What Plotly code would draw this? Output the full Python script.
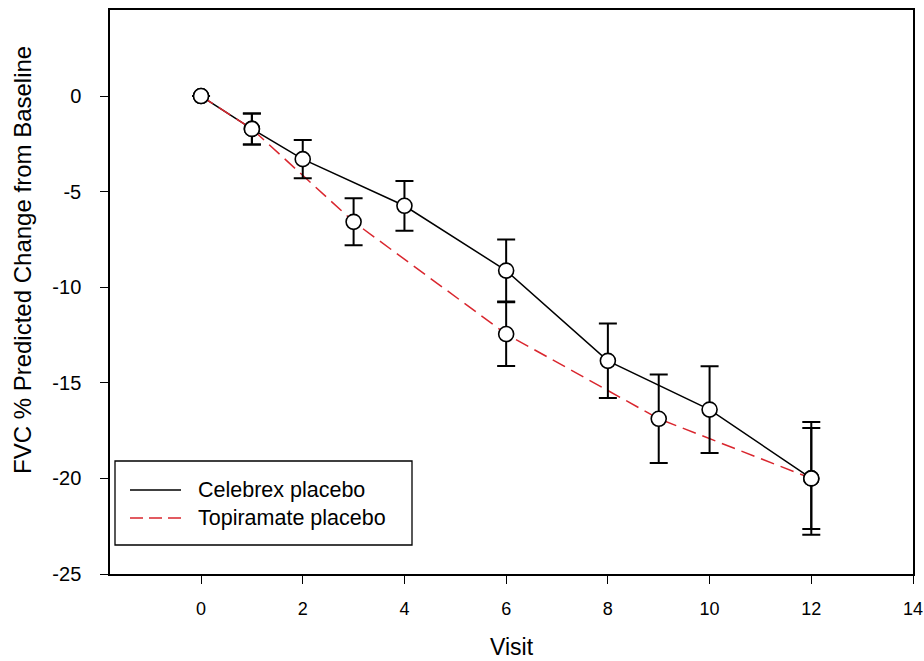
import plotly.graph_objects as go

# Celebrex placebo
cel_visit = [0, 1, 2, 4, 6, 8, 10, 12]
cel_mean = [0, -1.72, -3.30, -5.74, -9.13, -13.85, -16.40, -20.0]
cel_err = [0, 0.81, 1.00, 1.30, 1.62, 1.95, 2.27, 2.95]

# Topiramate placebo
top_visit = [0, 1, 3, 6, 9, 12]
top_mean = [0, -1.72, -6.58, -12.45, -16.88, -20.0]
top_err = [0, 0.81, 1.23, 1.67, 2.32, 2.64]

x_ticks = [0, 2, 4, 6, 8, 10, 12, 14]
y_ticks = [0, -5, -10, -15, -20, -25]
y_tick_text = ["0", "-5", "-10", "-15", "-20", "-25"]

series_names = ["Celebrex placebo", "Topiramate placebo"]

RED = "#d9262e"
FONT = "Liberation Sans, Arial, sans-serif"

W, H = 924, 661
L, R, T, B = 110, 11, 10, 87
PW, PH = W - L - R, H - T - B

def px_x(p):
    return (p - L) / PW

def px_y(p):
    return (H - B - p) / PH

fig = go.Figure()

fig.add_trace(go.Scatter(x=cel_visit, y=cel_mean, mode="lines", name=series_names[0],
                         showlegend=False, line=dict(color="black", width=1.5)))
fig.add_trace(go.Scatter(x=top_visit, y=top_mean, mode="lines", name=series_names[1],
                         showlegend=False, line=dict(color=RED, width=1.5, dash="14px,7px")))

for xs, ys, es in [(cel_visit, cel_mean, cel_err), (top_visit, top_mean, top_err)]:
    fig.add_trace(go.Scatter(
        x=xs, y=ys, mode="markers", showlegend=False,
        error_y=dict(type="data", array=es, visible=True, color="black", thickness=2, width=9),
        marker=dict(symbol="circle", size=15, color="white", line=dict(color="black", width=1.6)),
    ))

# Legend box drawn in paper coordinates
shapes = [
    dict(type="rect", xref="paper", yref="paper", x0=px_x(115), x1=px_x(412),
         y0=px_y(545), y1=px_y(461), line=dict(color="black", width=1.3), fillcolor="white",
         layer="above"),
    dict(type="line", xref="paper", yref="paper", x0=px_x(130), x1=px_x(181),
         y0=px_y(490), y1=px_y(490), line=dict(color="black", width=1.5), layer="above"),
    dict(type="line", xref="paper", yref="paper", x0=px_x(130), x1=px_x(181),
         y0=px_y(518), y1=px_y(518), line=dict(color=RED, width=1.5, dash="13px,6px"),
         layer="above"),
]
annotations = [
    dict(text=series_names[0], xref="paper", yref="paper", x=px_x(196), y=px_y(490),
         xanchor="left", yanchor="middle", showarrow=False, font=dict(size=21.5)),
    dict(text=series_names[1], xref="paper", yref="paper", x=px_x(196), y=px_y(518),
         xanchor="left", yanchor="middle", showarrow=False, font=dict(size=21.5)),
    dict(text="FVC % Predicted Change from Baseline", xref="paper", yref="paper",
         x=px_x(22), y=px_y(260), xanchor="center", yanchor="middle", textangle=-90,
         showarrow=False, font=dict(size=24)),
    dict(text="Visit", xref="paper", yref="paper", x=0.5, y=px_y(647),
         xanchor="center", yanchor="middle", showarrow=False, font=dict(size=23)),
]

fig.update_layout(
    width=W, height=H,
    margin=dict(l=L, r=R, t=T, b=B),
    paper_bgcolor="white", plot_bgcolor="white",
    font=dict(family=FONT, color="black", size=18),
    showlegend=False,
    shapes=shapes,
    annotations=annotations,
    xaxis=dict(
        range=[-1.79, 14], tickvals=x_ticks, ticks="outside", ticklen=8, tickwidth=1.3,
        tickcolor="black", showline=True, linecolor="black", linewidth=1.5, mirror=True,
        showgrid=False, zeroline=False, tickfont=dict(size=18), automargin=False,
        ticklabelstandoff=10,
    ),
    yaxis=dict(
        range=[-25, 4.5], tickvals=y_ticks, ticktext=y_tick_text, ticks="outside", ticklen=8,
        tickwidth=1.3, tickcolor="black", showline=True, linecolor="black", linewidth=1.5,
        mirror=True, showgrid=False, zeroline=False, tickfont=dict(size=20), automargin=False,
        ticklabelstandoff=15,
    ),
)

fig.write_html("out.html")
